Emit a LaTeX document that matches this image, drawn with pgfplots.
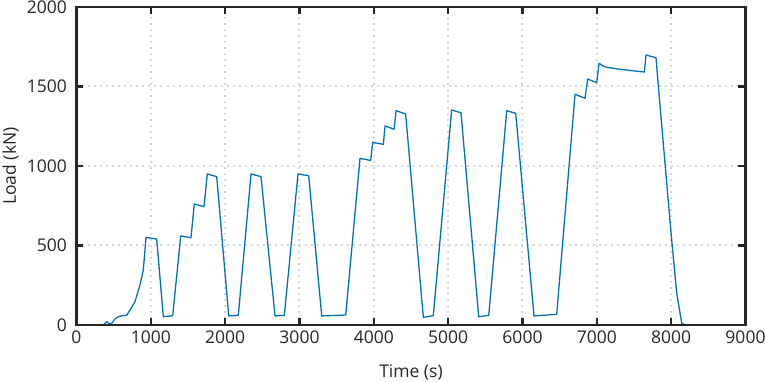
\documentclass[border=0pt]{standalone}
\usepackage{fontspec}
\setmainfont{Open Sans}
\usepackage{pgfplots}
\pgfplotsset{compat=1.18}
\definecolor{mblue}{RGB}{0,114,189}
\definecolor{axgray}{RGB}{38,38,38}
\definecolor{gridgray}{RGB}{215,215,215}
\begin{document}
\begin{tikzpicture}
\begin{axis}[
  scale only axis,
  width=669bp, height=318bp,
  at={(0,0)}, anchor=south west,
  xmin=0, xmax=9000, ymin=0, ymax=2000,
  xtick={0,1000,...,9000},
  ytick={0,500,...,2000},
  scaled x ticks=false,
  /pgf/number format/assume math mode=true,
  /pgf/number format/1000 sep={},
  tick align=inside,
  major tick length=7bp,
  major tick style={axgray, line width=2.4bp},
  axis line style={axgray, line width=2.4bp},
  grid=major,
  major grid style={gridgray, line width=2bp, dash pattern=on 2bp off 4bp},
  ticklabel style={font=\fontsize{17.5bp}{19bp}\selectfont, text=axgray},
  label style={font=\fontsize{17.5bp}{19bp}\selectfont, text=axgray},
  xlabel={Time (s)},
  ylabel={Load (kN)},
  xlabel style={at={(axis description cs:0.5,0)}, anchor=center, yshift=-47bp},
  ylabel style={at={(axis description cs:0,0.5)}, anchor=center, yshift=66bp},
  xticklabel style={yshift=-2bp},
  yticklabel style={xshift=-6bp},
  clip=true,
]
\addplot[mblue, line width=1.3bp, line join=round] coordinates {
(0,0) (360,0) (406,21) (440,8) (473,10) (518,38) (563,52) (608,58) (675,61)
(720,94) (787,147) (854,252) (899,346) (935,551) (1079,541) (1168,52)
(1294,58) (1402,560) (1540,549) (1585,761) (1715,744) (1760,950) (1886,933)
(2048,57) (2177,61) (2348,950) (2482,933) (2671,57) (2796,61) (2980,950)
(3124,939) (3299,57) (3622,63) (3814,1048) (3958,1035) (3985,1149)
(4128,1136) (4151,1252) (4272,1231) (4299,1348) (4428,1327) (4666,48)
(4800,59) (5047,1352) (5173,1335) (5411,52) (5546,61) (5788,1348)
(5909,1331) (6155,57) (6460,67) (6707,1451) (6841,1426) (6877,1547)
(6999,1524) (7030,1646) (7080,1630) (7133,1621) (7312,1608) (7639,1591)
(7662,1698) (7796,1681) (7830,1490) (7900,1110) (8000,570) (8075,200)
(8142,11) (8187,0)
};
\draw[axgray, line width=2.4bp] (rel axis cs:0,0) rectangle (rel axis cs:1,1);
\end{axis}
\pgfresetboundingbox
\path[use as bounding box] (-76.5bp,-57bp) rectangle (688.5bp,325bp);
\end{tikzpicture}
\end{document}
